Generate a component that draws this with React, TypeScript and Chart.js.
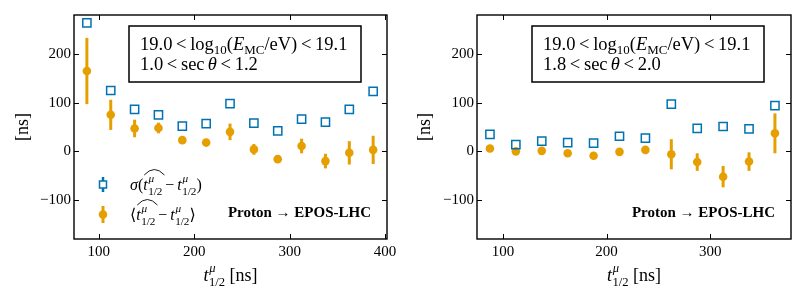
import React, { useEffect, useRef } from 'react';
import { Chart, registerables } from 'chart.js';
Chart.register(...registerables);

// ---------- data ----------
const xLeft = [87.5, 112.5, 137.5, 162.5, 187.5, 212.5, 237.5, 262.5, 287.5, 312.5, 337.5, 362.5, 387.5];
const sigmaLeft = [264, 125, 86, 75, 52, 57, 98, 58, 42, 66, 60, 86, 123];
const meanLeft = [165, 75, 47, 48, 23, 18, 40, 4, -16, 11, -20, -3, 3];
const meanErrLeft = [68, 31, 18, 11, 8, 5, 17, 11, 4, 15, 15, 24, 29];

const xRight = [87.5, 112.5, 137.5, 162.5, 187.5, 212.5, 237.5, 262.5, 287.5, 312.5, 337.5, 362.5];
const sigmaRight = [35, 14, 21, 18, 17, 31, 27, 97, 47, 51, 46, 94];
const meanRight = [6, 0, 1, -4, -9, -1, 3, -6, -22, -52, -21, 37];
const meanErrRight = [3, 3, 3, 3, 3, 3, 4, 31, 18, 22, 19, 41];

const yTicks = [-100, 0, 100, 200];
const xTicksLeft = [100, 200, 300, 400];
const xTicksRight = [100, 200, 300];

const secLeft = ['1.0', '1.2'];
const secRight = ['1.8', '2.0'];

const BLUE = '#0072B2';
const ORANGE = '#E69F00';
const FONT = '"Liberation Serif", "DejaVu Serif", serif';

// ---------- rich text ----------
type Seg = { t: string; it?: boolean; b?: boolean; sc?: number; dy?: number; back?: boolean; sp?: number; ps?: number };

function layoutRich(ctx: CanvasRenderingContext2D, segs: Seg[], size: number, x: number, y: number, align: string, draw: boolean) {
  const run = (ox: number, doDraw: boolean) => {
    let cx = 0;
    let pend = 0;
    const pos: { x0: number; x1: number }[] = [];
    for (const s of segs) {
      const fs = size * (s.sc || 1);
      ctx.font = `${s.it ? 'italic ' : ''}${s.b ? 'bold ' : ''}${fs}px ${FONT}`;
      if (s.sp) cx += s.sp * size;
      const w = ctx.measureText(s.t).width;
      if (doDraw) ctx.fillText(s.t, ox + cx, y + (s.dy || 0) * size);
      pos.push({ x0: ox + cx, x1: ox + cx + w });
      if (s.back) {
        pend = Math.max(pend, w);
      } else {
        cx += Math.max(w, pend);
        pend = 0;
      }
      if (s.ps) cx += s.ps * size;
    }
    return { w: cx, pos };
  };
  const m = run(0, false);
  let ox = x;
  if (align === 'center') ox = x - m.w / 2;
  else if (align === 'right') ox = x - m.w;
  ctx.textAlign = 'left';
  ctx.textBaseline = 'alphabetic';
  return run(ox, draw).pos;
}

const tHalf = (): Seg[] => [
  { t: 't', it: true },
  { t: 'μ', it: true, sc: 0.7, dy: -0.5, back: true, sp: 0.05 },
  { t: '1/2', sc: 0.7, dy: 0.3, sp: -0.02 },
];

const relSeg = (): Seg => ({ t: '<', sp: 0.2, ps: 0.2 });

type Panel = {
  xs: number[]; sig: number[]; mean: number[]; err: number[];
  xmin: number; xmax: number; xticks: number[];
  sec: string[]; yAxisW: number; padRight: number; yTitleX: number; legend: boolean;
};

function makeConfig(p: Panel): any {
  const decor = {
    id: 'decor',
    beforeDatasetsDraw(chart: any) {
      const ctx = chart.ctx as CanvasRenderingContext2D;
      const xs = chart.scales.x, ys = chart.scales.y;
      ctx.save();
      ctx.strokeStyle = ORANGE;
      ctx.lineWidth = 3;
      ctx.lineCap = 'butt';
      p.xs.forEach((x, i) => {
        const px = xs.getPixelForValue(x);
        ctx.beginPath();
        ctx.moveTo(px, ys.getPixelForValue(p.mean[i] + p.err[i]));
        ctx.lineTo(px, ys.getPixelForValue(p.mean[i] - p.err[i]));
        ctx.stroke();
      });
      ctx.restore();
    },
    afterDraw(chart: any) {
      const ctx = chart.ctx as CanvasRenderingContext2D;
      const a = chart.chartArea;
      const xs = chart.scales.x, ys = chart.scales.y;
      ctx.save();
      // frame
      ctx.strokeStyle = '#000';
      ctx.lineWidth = 1.4;
      ctx.strokeRect(a.left, a.top, a.right - a.left, a.bottom - a.top);
      // inward ticks
      ctx.lineWidth = 1;
      const TL = 5;
      ctx.beginPath();
      xs.ticks.forEach((t: any) => {
        const px = Math.round(xs.getPixelForValue(t.value)) + 0.5;
        ctx.moveTo(px, a.bottom); ctx.lineTo(px, a.bottom - TL);
        ctx.moveTo(px, a.top); ctx.lineTo(px, a.top + TL);
      });
      ys.ticks.forEach((t: any) => {
        const py = Math.round(ys.getPixelForValue(t.value)) + 0.5;
        ctx.moveTo(a.left, py); ctx.lineTo(a.left + TL, py);
        ctx.moveTo(a.right, py); ctx.lineTo(a.right - TL, py);
      });
      ctx.stroke();

      // text box
      const bx = a.left + 55, by = a.top + 11, bw = 232, bh = 56;
      ctx.fillStyle = '#fff';
      ctx.fillRect(bx, by, bw, bh);
      ctx.lineWidth = 1.5;
      ctx.strokeRect(bx, by, bw, bh);
      ctx.fillStyle = '#000';
      const BS = 18.5;
      layoutRich(ctx, [
        { t: '19.0' }, relSeg(), { t: 'log' }, { t: '10', sc: 0.7, dy: 0.25 }, { t: '(' },
        { t: 'E', it: true }, { t: 'MC', sc: 0.7, dy: 0.25 }, { t: '/eV)' }, relSeg(), { t: '19.1' },
      ], BS, bx + 11, by + 23.5, 'left', true);
      layoutRich(ctx, [
        { t: p.sec[0] }, relSeg(), { t: 'sec' }, { t: 'θ', it: true, sp: 0.17 }, relSeg(), { t: p.sec[1] },
      ], BS, bx + 11, by + 43.5, 'left', true);

      // model label
      layoutRich(ctx, [{ t: 'Proton ', b: true }, { t: '→' }, { t: ' EPOS-LHC', b: true }], 15, a.right - 16, 217, 'right', true);

      // x title
      layoutRich(ctx, [...tHalf(), { t: ' [ns]' }], 18, (a.left + a.right) / 2, 281, 'center', true);

      // y title
      ctx.save();
      ctx.translate(p.yTitleX, (a.top + a.bottom) / 2);
      ctx.rotate(-Math.PI / 2);
      ctx.font = `18px ${FONT}`;
      ctx.textAlign = 'center';
      ctx.textBaseline = 'middle';
      ctx.fillText('[ns]', 0, 0);
      ctx.restore();

      if (p.legend) {
        const mx = 103;
        // blue legend marker
        ctx.strokeStyle = BLUE;
        ctx.lineWidth = 2.5;
        ctx.beginPath();
        ctx.moveTo(mx, 177); ctx.lineTo(mx, 192);
        ctx.stroke();
        ctx.fillStyle = '#fff';
        ctx.fillRect(mx - 3.5, 181, 7, 7);
        ctx.lineWidth = 1.5;
        ctx.strokeRect(mx - 3.5, 181, 7, 7);
        // orange legend marker
        ctx.strokeStyle = ORANGE;
        ctx.lineWidth = 3;
        ctx.beginPath();
        ctx.moveTo(mx, 206); ctx.lineTo(mx, 223);
        ctx.stroke();
        ctx.fillStyle = ORANGE;
        ctx.beginPath();
        ctx.arc(mx, 214.5, 4.3, 0, Math.PI * 2);
        ctx.fill();

        ctx.fillStyle = '#000';
        ctx.strokeStyle = '#000';
        ctx.lineWidth = 0.9;
        const LS = 16;
        const drawHat = (pos: { x0: number; x1: number }[], base: number) => {
          const x0 = pos[2].x0 + 1, x1 = pos[4].x1 + 2;
          ctx.beginPath();
          ctx.moveTo(x0, base - 15);
          ctx.quadraticCurveTo((x0 + x1) / 2, base - 26, x1, base - 15);
          ctx.stroke();
        };
        const l1 = layoutRich(ctx, [
          { t: 'σ', it: true }, { t: '(' }, ...tHalf(), { t: '−', sp: 0.18, ps: 0.18 }, ...tHalf(), { t: ')' },
        ], LS, 130, 190, 'left', true);
        drawHat(l1, 190);
        const l2 = layoutRich(ctx, [
          { t: '⟨' }, { t: '' }, ...tHalf(), { t: '−', sp: 0.18, ps: 0.18 }, ...tHalf(), { t: '⟩' },
        ], LS, 130, 220, 'left', true);
        drawHat(l2, 220);
      }
      ctx.restore();
    },
  };

  return {
    type: 'scatter',
    data: {
      datasets: [
        {
          data: p.xs.map((x, i) => ({ x, y: p.sig[i] })),
          pointStyle: 'rect',
          pointRadius: 5.8,
          borderColor: BLUE,
          backgroundColor: 'rgba(255,255,255,0)',
          borderWidth: 1.5,
          showLine: false,
        },
        {
          data: p.xs.map((x, i) => ({ x, y: p.mean[i] })),
          pointStyle: 'circle',
          pointRadius: 4.3,
          borderWidth: 0,
          backgroundColor: ORANGE,
          borderColor: ORANGE,
          showLine: false,
        },
      ],
    },
    options: {
      responsive: false,
      animation: false,
      events: [],
      layout: { padding: { top: 15, right: p.padRight, left: 0, bottom: 0 } },
      plugins: { legend: { display: false }, tooltip: { enabled: false } },
      scales: {
        x: {
          type: 'linear',
          min: p.xmin,
          max: p.xmax,
          grid: { display: false, drawTicks: false },
          border: { display: false },
          afterBuildTicks: (s: any) => { s.ticks = p.xticks.map((v) => ({ value: v })); },
          afterFit: (s: any) => { s.height = 61; },
          ticks: {
            padding: 4,
            color: '#000',
            font: { family: FONT, size: 15 },
            maxRotation: 0,
            autoSkip: false,
          },
        },
        y: {
          type: 'linear',
          min: -180,
          max: 280,
          grid: { display: false, drawTicks: false },
          border: { display: false },
          afterBuildTicks: (s: any) => { s.ticks = yTicks.map((v) => ({ value: v })); },
          afterFit: (s: any) => { s.width = p.yAxisW; },
          ticks: {
            padding: 3,
            color: '#000',
            font: { family: FONT, size: 15 },
            autoSkip: false,
            callback: (v: any) => String(v).replace('-', '−'),
          },
        },
      },
    },
    plugins: [decor],
  };
}

export default function App() {
  const r1 = useRef<HTMLCanvasElement>(null);
  const r2 = useRef<HTMLCanvasElement>(null);
  useEffect(() => {
    document.body.style.margin = '0';
    const c1 = new Chart(r1.current!, makeConfig({
      xs: xLeft, sig: sigmaLeft, mean: meanLeft, err: meanErrLeft,
      xmin: 74, xmax: 402, xticks: xTicksLeft, sec: secLeft,
      yAxisW: 74, padRight: 15, yTitleX: 23, legend: true,
    }));
    const c2 = new Chart(r2.current!, makeConfig({
      xs: xRight, sig: sigmaRight, mean: meanRight, err: meanErrRight,
      xmin: 75, xmax: 378, xticks: xTicksRight, sec: secRight,
      yAxisW: 75, padRight: 13, yTitleX: 23, legend: false,
    }));
    return () => { c1.destroy(); c2.destroy(); };
  }, []);
  return (
    <div style={{ position: 'relative', width: 804, height: 300, background: '#fff' }}>
      <canvas ref={r1} width={402} height={300} style={{ position: 'absolute', left: 0, top: 0, width: 402, height: 300 }} />
      <canvas ref={r2} width={402} height={300} style={{ position: 'absolute', left: 402, top: 0, width: 402, height: 300 }} />
    </div>
  );
}
